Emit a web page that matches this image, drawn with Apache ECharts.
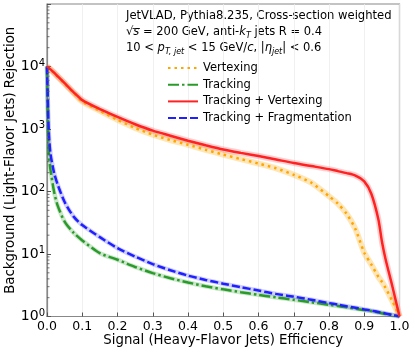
<!DOCTYPE html>
<html>
<head>
<meta charset="utf-8">
<script src="https://cdn.jsdelivr.net/npm/echarts@6/dist/echarts.min.js"></script>
<style>
  html, body { margin: 0; padding: 0; background: #fff; }
  #chart { width: 415px; height: 353px; }
</style>
</head>
<body>
<div id="chart"></div>
<script>
// signal efficiency grid shared by all curves
var eff = [0, 0.005, 0.01, 0.02, 0.03, 0.05, 0.075, 0.1, 0.15, 0.2, 0.25, 0.3, 0.35, 0.4, 0.45, 0.5,
  0.55, 0.6, 0.65, 0.7, 0.75, 0.8, 0.825, 0.85, 0.875, 0.9, 0.92, 0.94, 0.95, 0.96, 0.98, 1.0];

// background rejection
var rejVertexing = [10000, 9400, 8900, 7900, 6900, 5300, 3800, 2750, 1950, 1400, 1040, 810, 665, 560, 465, 390,
  330, 280, 235, 185, 138, 84, 64, 44, 25, 10.5, 6.8, 4.3, 3.6, 2.9, 1.75, 1];
var rejTracking = [10000, 400, 220, 100, 60, 33, 22, 16.5, 10.3, 8.1, 6.2, 4.95, 4.1, 3.5, 3.05, 2.72,
  2.45, 2.22, 2.02, 1.85, 1.69, 1.54, 1.47, 1.4, 1.33, 1.27, 1.22, 1.16, 1.13, 1.1, 1.05, 1];
var rejTrackVertex = [10000, 9500, 9000, 8000, 7000, 5400, 3900, 2900, 2080, 1560, 1190, 940, 780, 650, 550, 470,
  415, 370, 325, 285, 255, 228, 212, 197, 180, 145, 92, 36, 16, 8.5, 3.0, 1];
var rejTrackFrag = [10000, 900, 400, 200, 130, 68, 40, 29, 18.6, 12.4, 9.1, 6.9, 5.5, 4.5, 3.85, 3.35,
  2.95, 2.6, 2.3, 2.08, 1.85, 1.64, 1.55, 1.46, 1.38, 1.3, 1.24, 1.18, 1.15, 1.12, 1.06, 1];

var yMinor = [];
[1, 10, 100, 1000, 10000].forEach(function (d) {
  for (var k = 2; k <= 9; k++) yMinor.push(d * k);
});

var font = 'DejaVu Sans';

function pairs(ys) {
  return eff.map(function (x, i) { return [x, ys[i]]; });
}

function curve(name, ys, color, dash, z) {
  return {
    name: name, type: 'line', data: pairs(ys), symbol: 'none',
    smooth: 0.25, z: z,
    lineStyle: { color: color, width: 2.5, type: dash },
    itemStyle: { color: color }
  };
}

function band(ys, color, width, z) {
  return {
    name: 'band', type: 'line', data: pairs(ys), symbol: 'none',
    smooth: 0.25, z: z, silent: true,
    lineStyle: { color: color, width: width }
  };
}

var chart = echarts.init(document.getElementById('chart'));
var option = {
  animation: false,
  backgroundColor: '#fff',
  grid: { left: 47, right: 15.5, top: 4, bottom: 36.5, outerBoundsMode: 'none',
    show: true, borderColor: '#888', borderWidth: 1.2 },
  legend: {
    data: ['Vertexing', 'Tracking', 'Tracking + Vertexing', 'Tracking + Fragmentation'],
    orient: 'vertical', left: 162, top: 56,
    itemWidth: 30, itemHeight: 13, itemGap: 2.7,
    itemStyle: { color: 'rgba(0,0,0,0)', borderWidth: 0, opacity: 0 },
    textStyle: { fontFamily: font, fontSize: 11.5, color: '#000', lineHeight: 14 }
  },
  graphic: [
    { type: 'text', left: 126, top: 10, style: { text: 'JetVLAD, Pythia8.235, Cross-section weighted', fontFamily: font, fontSize: 11.6, fill: '#000' } },
    { type: 'text', left: 126, top: 26, style: {
      text: '{b|√}{i|s}{b| = 200 GeV, anti-}{i|k}{s|T}{b| jets R = 0.4}',
      rich: {
        b: { fontFamily: font, fontSize: 11.5, lineHeight: 15, fill: '#000' },
        i: { fontFamily: font, fontSize: 11.5, fontStyle: 'italic', lineHeight: 15, fill: '#000' },
        s: { fontFamily: font, fontSize: 8, fontStyle: 'italic', lineHeight: 9, verticalAlign: 'bottom', fill: '#000' }
      } } },
    { type: 'text', left: 126, top: 42, style: {
      text: '{b|10 < }{i|p}{s|T, jet}{b| < 15 GeV/}{i|c}{b|, |}{i|η}{s|jet}{b|| < 0.6}',
      rich: {
        b: { fontFamily: font, fontSize: 11.5, lineHeight: 15, fill: '#000' },
        i: { fontFamily: font, fontSize: 11.5, fontStyle: 'italic', lineHeight: 15, fill: '#000' },
        s: { fontFamily: font, fontSize: 8, fontStyle: 'italic', lineHeight: 9, verticalAlign: 'bottom', fill: '#000' }
      } } },
    // overline of the square root
    { type: 'line', shape: { x1: 132.5, y1: 28.5, x2: 140, y2: 28.5 }, style: { stroke: '#000', lineWidth: 0.8 } }
  ],
  xAxis: {
    type: 'value', min: 0, max: 1, interval: 0.1,
    name: 'Signal (Heavy-Flavor Jets) Efficiency', nameLocation: 'middle', nameGap: 17.5,
    nameMoveOverlap: false,
    nameTextStyle: { fontFamily: font, fontSize: 13.3, color: '#000' },
    axisLine: { lineStyle: { color: '#888', width: 1.2 } },
    axisTick: { inside: true, length: 4, lineStyle: { color: '#555' } },
    axisLabel: { fontFamily: font, fontSize: 12.5, color: '#000', margin: 4,
      formatter: function (v) { return v.toFixed(1); } },
    splitLine: { show: true, lineStyle: { color: '#ececec', width: 0.8 } }
  },
  yAxis: {
    type: 'log', logBase: 10, min: 1, max: 100000,
    name: 'Background (Light-Flavor Jets) Rejection', nameLocation: 'middle', nameGap: 30,
    nameMoveOverlap: false,
    nameTextStyle: { fontFamily: font, fontSize: 13.3, color: '#000' },
    axisLine: { lineStyle: { color: '#888', width: 1.2 } },
    axisTick: { inside: true, length: 4, lineStyle: { color: '#555' } },
    axisLabel: {
      margin: 2,
      formatter: function (v) {
        var e = Math.round(Math.log(v) / Math.LN10);
        if (e > 4) return '';
        return '{b|10}{e|' + e + '}';
      },
      rich: {
        b: { fontFamily: font, fontSize: 14, color: '#000', lineHeight: 17 },
        e: { fontFamily: font, fontSize: 10, color: '#000', lineHeight: 11, verticalAlign: 'top' }
      }
    },
    splitLine: { show: false }
  },
  series: [
    band(rejTracking, 'rgba(44,160,44,0.25)', 4.5, 1),
    band(rejTrackFrag, 'rgba(40,40,255,0.22)', 4.5, 1),
    band(rejVertexing, 'rgba(255,165,0,0.28)', 6, 1),
    band(rejTrackVertex, 'rgba(255,40,40,0.22)', 6, 1),
    curve('Vertexing', rejVertexing, '#ffa500', [2.5, 4], 3),
    curve('Tracking', rejTracking, '#2a9a2a', [11, 3, 2.5, 3], 3),
    curve('Tracking + Vertexing', rejTrackVertex, '#ff2222', 'solid', 4),
    curve('Tracking + Fragmentation', rejTrackFrag, '#1f1fff', [8, 3], 3),
    {
      // minor log ticks on the left axis
      type: 'custom', silent: true, z: 5,
      data: yMinor.map(function (v) { return [0, v]; }),
      renderItem: function (params, api) {
        var p = api.coord([0, api.value(1)]);
        return { type: 'line', shape: { x1: p[0], y1: p[1], x2: p[0] + 2.5, y2: p[1] },
          style: { stroke: '#555', lineWidth: 0.8 } };
      }
    }
  ]
};
chart.setOption(option);
window.addEventListener('resize', function () { chart.resize(); });
</script>
</body>
</html>
